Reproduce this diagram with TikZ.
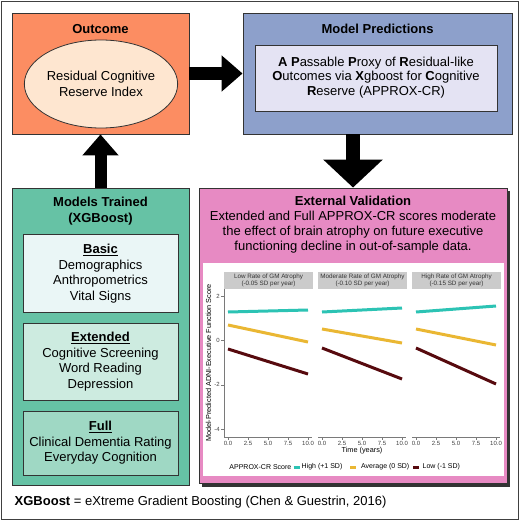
\documentclass[tikz,border=0pt]{standalone}
\usepackage{fontspec}
\setmainfont{Liberation Sans}
\usetikzlibrary{arrows.meta,shapes.geometric,calc}
\definecolor{outc}{HTML}{FC8D62}
\definecolor{ellc}{HTML}{FEE6D0}
\definecolor{predc}{HTML}{8DA0CB}
\definecolor{innc}{HTML}{E4E3F3}
\definecolor{trainc}{HTML}{66C2A5}
\definecolor{basicc}{HTML}{EAF6F6}
\definecolor{extc}{HTML}{CDEBE0}
\definecolor{fullc}{HTML}{9FD8C4}
\definecolor{valc}{HTML}{E78AC3}
\definecolor{hic}{HTML}{2CC3B4}
\definecolor{avc}{HTML}{EAB733}
\definecolor{loc}{HTML}{570A0E}
\definecolor{stripc}{HTML}{CBCBCB}
\definecolor{edgec}{HTML}{333333}
\definecolor{axc}{HTML}{7A7A7A}
\begin{document}
\begin{tikzpicture}[x=1pt,y=-1pt,
  box/.style={draw=edgec, line width=0.9pt, inner sep=0pt, rectangle},
  bodyfont/.style={font=\fontsize{13}{15.6}\selectfont, align=center, inner sep=0pt},
  ttl/.style={font=\fontsize{13}{16}\selectfont\bfseries, align=center, inner sep=0pt},
  fatarrow/.style n args={3}{line width=#1, -{Triangle[width=#2, length=#3]}},
  axis/.style={draw=axc, line width=0.5pt},
  ticklab/.style={font=\fontsize{6}{7}\selectfont, text=black!75, inner sep=0pt},
  striplab/.style={fill=stripc, minimum width=89pt, minimum height=17pt, inner sep=0pt, align=center, font=\fontsize{6.3}{7.2}\selectfont, text=black!80},
  axtitle/.style={font=\fontsize{7.3}{8}\selectfont, inner sep=0pt},
  legtext/.style={font=\fontsize{7}{8}\selectfont, inner sep=0pt, anchor=west},
  dataline/.style={line width=3pt}
]
\useasboundingbox (0,0) rectangle (520,521);
\draw[draw=black!75, line width=1.2pt] (1.5,1.5) rectangle (518.5,519.5);

% Outcome
\node[box, fill=outc, minimum width=177pt, minimum height=121pt] (outcome) at (100.5,73.5) {};
\node[ttl] (outt) at (100.5,29) {Outcome};
\node[ellipse, draw=edgec, line width=0.8pt, fill=ellc, minimum width=132pt, minimum height=88pt, bodyfont] (rcri) at (101,84) {Residual Cognitive\\Reserve Index};

% Model predictions
\node[box, fill=predc, minimum width=269pt, minimum height=121pt] (pred) at (377.5,73.5) {};
\node[ttl] (predt) at (377.5,29) {Model Predictions};
\node[box, fill=innc, minimum width=242pt, minimum height=66pt] (inner) at (376,78) {};
\node[bodyfont, font=\fontsize{13}{14.6}\selectfont] (innert) at (376,77.5) {\textbf{A} \textbf{P}assable \textbf{P}roxy of \textbf{R}esidual-like\\\textbf{O}utcomes via \textbf{X}gboost for \textbf{C}ognitive\\\textbf{R}eserve (APPROX-CR)};

% Models trained
\node[box, fill=trainc, minimum width=177pt, minimum height=297pt] (trained) at (100.5,336.5) {};
\node[ttl] (trainedt) at (100.5,211) {Models Trained\\(XGBoost)};
\node[box, fill=basicc, minimum width=155pt, minimum height=78pt] (basic) at (100.5,273) {};
\node[bodyfont] (basict) at (100.5,273.5) {\underline{\textbf{Basic}}\\Demographics\\Anthropometrics\\Vital Signs};
\node[box, fill=extc, minimum width=155pt, minimum height=77pt] (ext) at (100.5,361.5) {};
\node[bodyfont] (extt) at (100.5,361.5) {\underline{\textbf{Extended}}\\Cognitive Screening\\Word Reading\\Depression};
\node[box, fill=fullc, minimum width=155pt, minimum height=64pt] (full) at (100.5,443) {};
\node[bodyfont] (fullt) at (100.5,443) {\underline{\textbf{Full}}\\Clinical Dementia Rating\\Everyday Cognition};

% External validation
\fill[black!80] (202,191) rectangle (510,486.5);
\node[box, fill=valc, minimum width=308pt, minimum height=295pt] (valid) at (353,335.5) {};
\node[bodyfont, font=\fontsize{13}{15}\selectfont] (validt) at (353,224.5) {\textbf{External Validation}\\Extended and Full APPROX-CR scores moderate\\the effect of brain atrophy on future executive\\functioning decline in out-of-sample data.};
\fill[white] (202.5,263) rectangle (504,476);

% Plot: strips
\foreach \p/\t/\s [count=\i] in {228/Low/-0.05, 322/Moderate/-0.10, 416/High/-0.15} {
  \node[striplab] (strip\i) at (\p+40.5,280.5) {\t{} Rate of GM Atrophy\\(\s{} SD per year)};
  \draw[axis] (\p-4,437) -- (\p+84,437);
  \foreach \lab [count=\k from 0] in {0.0,2.5,5.0,7.5,10.0} {
    \draw[axis] (\p+20*\k,437) -- (\p+20*\k,440);
    \node[ticklab, anchor=north] (xl\i\k) at (\p+20*\k,441) {\lab};
  }
}
% y axis
\draw[axis] (224,289) -- (224,437);
\foreach \v/\lab [count=\k] in {2/2,0/0,-2/-2,-4/-4} {
  \draw[axis] (221,340.5-22.2*\v) -- (224,340.5-22.2*\v);
  \node[ticklab, anchor=east] (yl\k) at (220,340.5-22.2*\v) {\lab};
}
\node[axtitle, rotate=90] (ylab) at (208.5,363) {Model-Predicted ADNI-Executive Function Score};
\node[axtitle] (xlab) at (362,451) {Time (years)};

% data lines
\draw[dataline, hic] (228,312) -- (308,310);
\draw[dataline, avc] (228,325) -- (308,342);
\draw[dataline, loc] (228,349) -- (308,374);
\draw[dataline, hic] (322,312) -- (402,308);
\draw[dataline, avc] (322,329) -- (402,343);
\draw[dataline, loc] (322,348) -- (402,379);
\draw[dataline, hic] (416,312) -- (496,306);
\draw[dataline, avc] (416,329) -- (496,345);
\draw[dataline, loc] (416,348) -- (496,384);

% legend
\node[legtext, anchor=east] (legt) at (291.5,467) {APPROX-CR Score};
\draw[dataline, hic] (293.5,467) -- (299.5,467);
\node[legtext] (leg1) at (301.5,467) {High (+1 SD)};
\draw[dataline, avc] (350,467) -- (356,467);
\node[legtext] (leg2) at (361,467) {Average (0 SD)};
\draw[dataline, loc] (413,467) -- (419,467);
\node[legtext] (leg3) at (422.5,467) {Low (-1 SD)};

% footer
\node[font=\fontsize{13}{16}\selectfont, inner sep=0pt, anchor=west] (foot) at (14.5,502) {\textbf{XGBoost} = eXtreme Gradient Boosting (Chen \& Guestrin, 2016)};

% arrows
\draw[fatarrow={12.5pt}{35pt}{21pt}] (outcome.east) -- (pred.west);
\draw[fatarrow={12pt}{35pt}{21pt}] (trained.north) -- (outcome.south);
\draw[fatarrow={14pt}{58pt}{28pt}] (pred.south -| valid.north) -- (valid.north);
\end{tikzpicture}
\end{document}
